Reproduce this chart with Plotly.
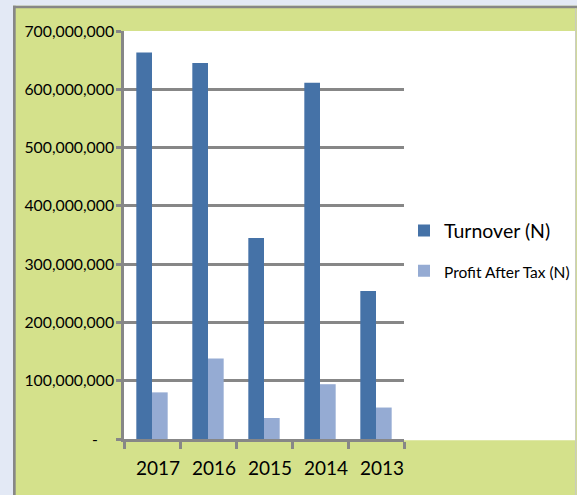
import plotly.graph_objects as go

# Financial summary by year
years = ["2017", "2016", "2015", "2014", "2013"]
turnover = [663_000_000, 645_000_000, 345_000_000, 611_000_000, 254_000_000]
profit_after_tax = [80_000_000, 138_000_000, 36_000_000, 94_000_000, 54_000_000]

y_ticks = [0, 100_000_000, 200_000_000, 300_000_000, 400_000_000,
           500_000_000, 600_000_000, 700_000_000]
y_tick_labels = ["-" + "\u00a0" * 4] + [f"{v:,}" for v in y_ticks[1:]]

W, H = 577, 495
L, R, T, B = 123.5, 404.0, 30.8, 439.5   # plot area in pixels

PAGE_BLUE = "#e3e9f5"
GREEN = "#d4e18b"
GRID = "#878787"
FONT = "Lato, 'Open Sans', sans-serif"


def px(x):
    return (x - L) / (R - L)


def py(y):
    return (B - y) / (B - T)


def rect(x0, y0, x1, y1, color, layer="above"):
    return dict(type="rect", xref="paper", yref="paper",
                x0=px(x0), x1=px(x1), y0=py(y1), y1=py(y0),
                fillcolor=color, line=dict(width=0), layer=layer)


fig = go.Figure()
fig.add_trace(go.Bar(x=years, y=turnover, name="Turnover (N)",
                     marker=dict(color="#4572a7", line=dict(width=0)),
                     legendgroup="a"))
fig.add_trace(go.Bar(x=years, y=profit_after_tax,
                     name="<span style='font-size:15.5px'>Profit After Tax (N)</span>",
                     marker=dict(color="#95abd3", line=dict(width=0)),
                     legendgroup="b"))

shapes = [
    # white panel continuing to the right of the bars (legend area)
    rect(R, T, 575.5, 440.8, "white", layer="below"),
    # page margins and border
    rect(-5, -5, 12.3, H + 5, PAGE_BLUE),
    rect(-5, -5, W + 5, 5.5, PAGE_BLUE),
    rect(12.3, 5.5, 15.0, H + 5, GRID),
    rect(12.3, 5.5, W + 5, 8.0, GRID),
    rect(575.5, 8.0, 576.6, H + 5, "#c8c8c8"),
]

fig.update_layout(
    width=W, height=H,
    margin=dict(l=L, r=W - R, t=T, b=H - B, pad=0, autoexpand=False),
    paper_bgcolor=GREEN,
    plot_bgcolor="white",
    font=dict(family=FONT, color="#000000"),
    barmode="group",
    bargap=0.44,
    bargroupgap=0,
    shapes=shapes,
    showlegend=True,
    legend=dict(
        x=px(404), xanchor="left",
        y=py(251), yanchor="middle",
        font=dict(size=19.5, family=FONT, color="#000000"),
        bgcolor="rgba(0,0,0,0)",
        traceorder="grouped",
        tracegroupgap=12,
    ),
)

fig.update_xaxes(
    type="category",
    categoryorder="array", categoryarray=years,
    automargin=False, tickangle=0,
    showline=True, linecolor=GRID, linewidth=2.5,
    ticks="outside", ticklen=7, tickwidth=2.5, tickcolor=GRID,
    tickson="boundaries",
    showgrid=False,
    tickfont=dict(size=19, family=FONT, color="#000000"),
    ticklabelshift=6,
    ticklabelstandoff=10,
)

fig.update_yaxes(
    range=[0, 700_000_000],
    tickvals=y_ticks, ticktext=y_tick_labels,
    automargin=False,
    showline=True, linecolor=GRID, linewidth=2.5,
    ticks="outside", ticklen=5, tickwidth=2.5, tickcolor=GRID,
    showgrid=True, gridcolor=GRID, gridwidth=2.5,
    zeroline=False,
    tickfont=dict(size=15.8, family=FONT, color="#000000"),
    ticklabelstandoff=-1,
)

fig.write_html("out.html")
